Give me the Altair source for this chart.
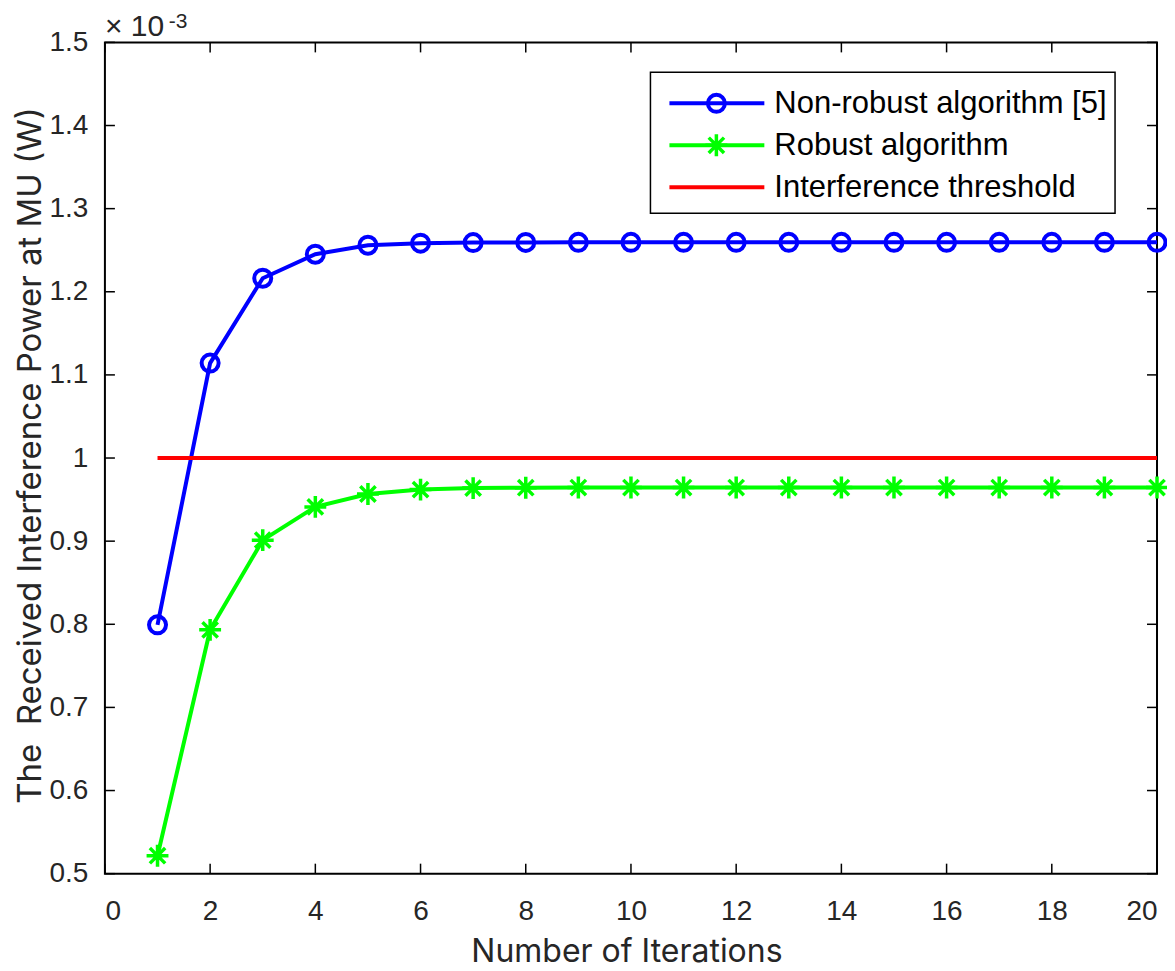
import altair as alt
import pandas as pd

iterations = list(range(1, 21))
non_robust = [0.7993, 1.1142, 1.2163, 1.2452, 1.2560, 1.2585, 1.2592, 1.2594, 1.2595, 1.2595,
              1.2595, 1.2595, 1.2595, 1.2595, 1.2595, 1.2595, 1.2595, 1.2595, 1.2595, 1.2595]
robust = [0.5216, 0.7933, 0.9012, 0.9412, 0.9567, 0.9620, 0.9638, 0.9643, 0.9645, 0.9645,
          0.9645, 0.9645, 0.9645, 0.9645, 0.9645, 0.9645, 0.9645, 0.9645, 0.9645, 0.9645]
threshold = [1.0] * 20
series_names = ["Non-robust algorithm [5]", "Robust algorithm", "Interference threshold"]
series_colors = ["#0000FF", "#00FF00", "#FF0000"]
x_ticks = list(range(0, 21, 2))
y_ticks = [0.5, 0.6, 0.7, 0.8, 0.9, 1.0, 1.1, 1.2, 1.3, 1.4, 1.5]

W, H = 1053, 832
FONT = "Liberation Sans"
TFONT = "Inter"
TXT = "#262626"

df = pd.DataFrame({
    "iter": iterations * 3,
    "value": non_robust + robust + threshold,
    "series": [series_names[0]] * 20 + [series_names[1]] * 20 + [series_names[2]] * 20,
})

xs = alt.Scale(domain=[0, 20], nice=False)
ys = alt.Scale(domain=[0.5, 1.5], nice=False)

x_axis = alt.Axis(values=x_ticks, title="Number of Iterations", grid=False, ticks=False,
                  domain=False, labelFontSize=28, labelColor=TXT, labelFont=FONT,
                  labelPadding=24, titleFontSize=32, titleFont=TFONT, titleColor=TXT,
                  titleFontWeight="normal", titleBaseline="alphabetic", titleX=522, titleY=88)
y_axis = alt.Axis(values=y_ticks, title="The\u00a0 Received Interference Power at MU (W)", grid=False,
                  ticks=False, domain=False, labelFontSize=28, labelColor=TXT, labelFont=FONT,
                  labelPadding=17, labelExpr="format(datum.value, '~g')", titleFontSize=33,
                  titleFont=TFONT, titleColor=TXT, titleFontWeight="normal",
                  titleBaseline="alphabetic", titleX=-64, titleY=413)

base = alt.Chart(df)

lines = base.mark_line(strokeWidth=4).encode(
    x=alt.X("iter:Q", scale=xs, axis=x_axis),
    y=alt.Y("value:Q", scale=ys, axis=y_axis),
    color=alt.Color("series:N", scale=alt.Scale(domain=series_names, range=series_colors), legend=None),
    detail="series:N",
)

CIRCLE_SIZE = 290
STAR_SIZE = 480
star_path = "M-1,0H1M0,-1V1M-0.7,-0.7L0.7,0.7M-0.7,0.7L0.7,-0.7"

circles = base.transform_filter(alt.datum.series == series_names[0]).mark_point(
    shape="circle", size=CIRCLE_SIZE, strokeWidth=4, filled=False, color=series_colors[0], opacity=1
).encode(x=alt.X("iter:Q", scale=xs), y=alt.Y("value:Q", scale=ys))

stars = base.transform_filter(alt.datum.series == series_names[1]).mark_point(
    shape=star_path, size=STAR_SIZE, strokeWidth=3.5, filled=False, color=series_colors[1], opacity=1
).encode(x=alt.X("iter:Q", scale=xs), y=alt.Y("value:Q", scale=ys))

# inner ticks (box on)
xt = pd.DataFrame({"t": x_ticks})
yt = pd.DataFrame({"t": y_ticks})
TL = 10
xt_bottom = alt.Chart(xt).mark_rule(color="black", strokeWidth=1.5).encode(
    x=alt.X("t:Q", scale=xs), y=alt.value(H), y2=alt.value(H - TL))
xt_top = alt.Chart(xt).mark_rule(color="black", strokeWidth=1.5).encode(
    x=alt.X("t:Q", scale=xs), y=alt.value(0), y2=alt.value(TL))
yt_left = alt.Chart(yt).mark_rule(color="black", strokeWidth=1.5).encode(
    y=alt.Y("t:Q", scale=ys), x=alt.value(0), x2=alt.value(TL))
yt_right = alt.Chart(yt).mark_rule(color="black", strokeWidth=1.5).encode(
    y=alt.Y("t:Q", scale=ys), x=alt.value(W), x2=alt.value(W - TL))

# exponent label
one = pd.DataFrame({"a": [0]})
exp_main = alt.Chart(one).mark_text(text="× 10", font=FONT, fontSize=30, color=TXT, align="left",
                                    baseline="alphabetic").encode(x=alt.value(0), y=alt.value(-6))
exp_sup = alt.Chart(one).mark_text(text="-3", font=FONT, fontSize=21, color=TXT, align="left",
                                   baseline="alphabetic").encode(x=alt.value(64), y=alt.value(-14))

# legend (drawn inside the plot, top right)
LX0, LX1, LY0, LY1 = 546, 1011, 30, 171
ROW_Y = [61, 103, 145]
SYM_X0, SYM_X1, SYM_XC, LAB_X = 565, 660, 612, 670

leg_box = alt.Chart(one).mark_rect(fill="white", stroke="black", strokeWidth=1.5).encode(
    x=alt.value(LX0), x2=alt.value(LX1), y=alt.value(LY0), y2=alt.value(LY1))
leg_layers = [leg_box]
for i, (name, col) in enumerate(zip(series_names, series_colors)):
    leg_layers.append(alt.Chart(one).mark_rule(color=col, strokeWidth=4).encode(
        x=alt.value(SYM_X0), x2=alt.value(SYM_X1), y=alt.value(ROW_Y[i])))
    leg_layers.append(alt.Chart(one).mark_text(text=name, font=FONT, fontSize=31, color="black",
                                               align="left", baseline="middle").encode(
        x=alt.value(LAB_X), y=alt.value(ROW_Y[i] + 1)))
leg_layers.append(alt.Chart(one).mark_point(shape="circle", size=CIRCLE_SIZE, strokeWidth=4,
                                            filled=False, color=series_colors[0], opacity=1).encode(
    x=alt.value(SYM_XC), y=alt.value(ROW_Y[0])))
leg_layers.append(alt.Chart(one).mark_point(shape=star_path, size=STAR_SIZE, strokeWidth=3.5,
                                            filled=False, color=series_colors[1], opacity=1).encode(
    x=alt.value(SYM_XC), y=alt.value(ROW_Y[1])))

chart = alt.layer(
    xt_bottom, xt_top, yt_left, yt_right, lines, circles, stars, exp_main, exp_sup, *leg_layers
).properties(
    width=W, height=H,
    autosize=alt.AutoSizeParams(type="none"),
    padding={"left": 97, "top": 34, "right": 10, "bottom": 97},
).configure_view(
    stroke="black", strokeWidth=2
)

chart.save("out.html", embed_options={"renderer": "svg", "actions": False})
